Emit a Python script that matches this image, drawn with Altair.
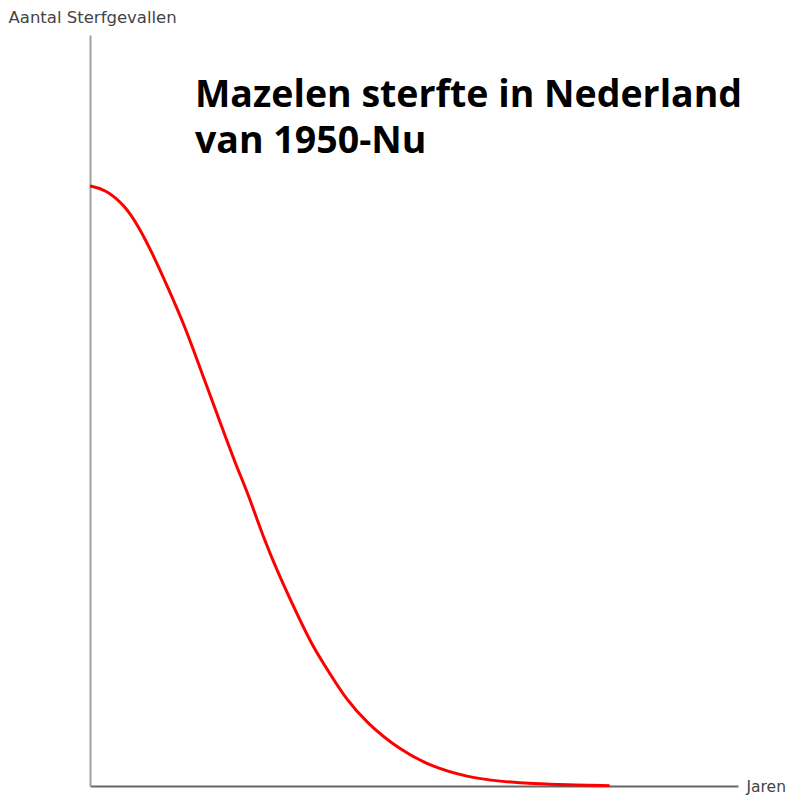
import altair as alt
import pandas as pd

years = [1950.0, 1952.3, 1955.4, 1957.5, 1959.6, 1962.0, 1964.7, 1967.3, 1969.8, 1972.7,
         1974.2, 1976.7, 1979.3, 1981.9, 1984.4, 1987.0, 1989.4, 1992.7, 1997.8,
         2002.9, 2008.2, 2013.3, 2018.4, 2023.6, 2030.2]
deaths = [79.9, 79.5, 77.3, 74.5, 71.0, 66.4, 61.1, 54.9, 49.1, 42.3,
          39.4, 33.2, 27.8, 23.0, 18.5, 15.0, 11.7, 8.4, 4.8,
          2.5, 1.2, 0.6, 0.3, 0.15, 0.05]
title_lines = ["Mazelen sterfte in Nederland", "van 1950-Nu"]

df = pd.DataFrame({"jaar": years, "sterfte": deaths})
tdf = pd.DataFrame({"t": ["\n".join(title_lines)]})

W, H = 648, 751

line = alt.Chart(df).mark_line(color="#ff0000", strokeWidth=3, interpolate="basis").encode(
    x=alt.X("jaar:Q", scale=alt.Scale(domain=[1950, 2050], nice=False, zero=False),
            axis=alt.Axis(title="Jaren", ticks=False, labels=False, grid=False,
                          domainColor="#666666", domainWidth=2,
                          titleX=656, titleY=0, titleAlign="left", titleBaseline="middle",
                          titleFont="DejaVu Sans", titleFontSize=15.5, titleFontWeight="normal",
                          titleColor="#444444")),
    y=alt.Y("sterfte:Q", scale=alt.Scale(domain=[0, 100], nice=False),
            axis=alt.Axis(title="Aantal Sterfgevallen", ticks=False, labels=False, grid=False,
                          domainColor="#a0a0a0", domainWidth=2,
                          titleAngle=0, titleX=-82, titleY=-13, titleAlign="left",
                          titleBaseline="alphabetic",
                          titleFont="DejaVu Sans", titleFontSize=16.5, titleFontWeight="normal",
                          titleColor="#444444")),
)

title = alt.Chart(tdf).mark_text(
    align="left", baseline="alphabetic", font="Open Sans", fontWeight="bold",
    fontSize=37.5, lineBreak="\n", lineHeight=46, color="#000000"
).encode(x=alt.value(105), y=alt.value(72), text="t:N")

chart = alt.layer(line, title).properties(
    width=W, height=H,
    autosize=alt.AutoSizeParams(type="none"),
    padding={"left": 82, "top": 27, "right": 52, "bottom": 14},
).configure_view(stroke="transparent")

chart.save("out.html", embed_options={"renderer": "svg", "actions": False})
